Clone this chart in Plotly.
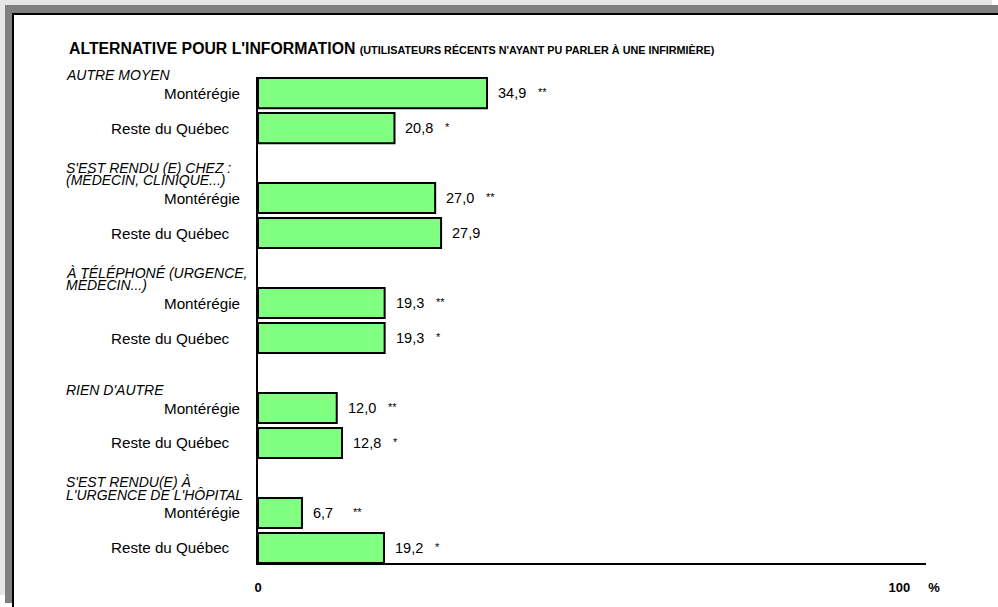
import plotly.graph_objects as go

# ---------------- data ----------------
groups = [
    "AUTRE MOYEN",
    "S'EST RENDU (E) CHEZ :<br>(MÉDECIN, CLINIQUE...)",
    "À TÉLÉPHONÉ (URGENCE,<br>MÉDECIN...)",
    "RIEN D'AUTRE",
    "S'EST RENDU(E) À<br>L'URGENCE DE L'HÔPITAL",
]
series = ["Montérégie", "Reste du Québec"]
monteregie = [34.9, 27.0, 19.3, 12.0, 6.7]
reste_quebec = [20.8, 27.9, 19.3, 12.8, 19.2]
stars_monteregie = ["**", "**", "**", "**", "**"]
stars_reste = ["*", "", "*", "*", "*"]
tick_values = [0, 100]
tick_labels = ["0", "100\u00a0\u00a0\u00a0\u00a0\u00a0%"]
title_main = "ALTERNATIVE POUR L'INFORMATION"
title_sub = "(UTILISATEURS RÉCENTS N'AYANT PU PARLER À UNE INFIRMIÈRE)"

# ---------------- layout geometry ----------------
W, H = 998, 607
L, R, T, B = 258, 72, 77, 44
pw, ph = W - L - R, H - T - B
FONT = "Liberation Sans, Arial, sans-serif"
GREEN = "#80ff80"


def px(x):
    return (x - L) / pw


def py(y):
    return (H - B - y) / ph


values = [monteregie, reste_quebec]
stars = [stars_monteregie, stars_reste]

fig = go.Figure()
for s, name in enumerate(series):
    ypos = [3 * g + s for g in range(len(groups))]
    fig.add_trace(go.Bar(
        y=ypos, x=values[s], orientation="h", width=0.86, name=name,
        marker=dict(color=GREEN, line=dict(color="black", width=2)),
        showlegend=False, hoverinfo="skip",
    ))

ann = []
for g, head in enumerate(groups):
    for s, name in enumerate(series):
        y = 3 * g + s
        v = values[s][g]
        ann.append(dict(x=v, y=y, xref="x", yref="y", xanchor="left", yanchor="middle",
                        xshift=9, showarrow=False, text=f"{v:.1f}".replace(".", ","),
                        font=dict(family=FONT, size=14.5, color="black")))
        if stars[s][g]:
            ann.append(dict(x=v, y=y, xref="x", yref="y", xanchor="left", yanchor="middle",
                            xshift=49, yshift=1, showarrow=False, text=stars[s][g],
                            font=dict(family=FONT, size=11, color="black")))
        ann.append(dict(x=0, y=y, xref="x", yref="y", xanchor="right", yanchor="middle",
                        xshift=-16 if s == 0 else -26, showarrow=False, text=name,
                        font=dict(family=FONT, size=15.2, color="black")))
    lines = head.split("<br>")
    n = len(lines)
    for i, ln in enumerate(lines):
        ann.append(dict(x=px(64), y=3 * g, xref="paper", yref="y", xanchor="left",
                        yanchor="middle", yshift=18 + (n - 1 - i) * 12.5, showarrow=False,
                        text=ln, font=dict(family=FONT, size=14, color="black", style="italic")))

ann.append(dict(
    x=px(67), y=py(48), xref="paper", yref="paper", xanchor="left", yanchor="middle",
    showarrow=False,
    text=f"<b>{title_main}</b> <span style='font-size:10.8px'><b>{title_sub}</b></span>",
    font=dict(family=FONT, size=15.8, color="black"),
))

shapes = [
    dict(type="rect", xref="paper", yref="paper", x0=px(0), x1=px(992), y0=py(0), y1=py(595),
         fillcolor="#e6e6e6", line=dict(width=0), layer="below"),
    dict(type="rect", xref="paper", yref="paper", x0=px(5), x1=px(1000), y0=py(5), y1=py(603),
         fillcolor="#808080", line=dict(width=0), layer="below"),
    dict(type="rect", xref="paper", yref="paper", x0=px(12), x1=px(1000), y0=py(13), y1=py(610),
         fillcolor="black", line=dict(width=0), layer="below"),
    dict(type="rect", xref="paper", yref="paper", x0=px(14), x1=px(1000), y0=py(15), y1=py(610),
         fillcolor="white", line=dict(width=0), layer="below"),
]

fig.update_layout(
    width=W, height=H,
    margin=dict(l=L, r=R, t=T, b=B, autoexpand=False),
    paper_bgcolor="white", plot_bgcolor="rgba(0,0,0,0)",
    barmode="overlay",
    annotations=ann, shapes=shapes,
    font=dict(family=FONT, color="black"),
    xaxis=dict(range=[0, 101.8], showline=True, linecolor="black", linewidth=2,
               showgrid=False, zeroline=False, tickvals=tick_values, ticktext=tick_labels,
               ticks="outside", ticklen=11, tickcolor="rgba(0,0,0,0)",
               tickfont=dict(family=FONT, size=13, color="black", weight="bold"),
               fixedrange=True),
    yaxis=dict(range=[13.43, -0.46], showline=True, linecolor="black", linewidth=2,
               showgrid=False, zeroline=False, showticklabels=False, fixedrange=True),
)

fig.write_html(
    "out.html",
    config={"displayModeBar": False},
    post_script="document.body.style.margin='0';document.body.style.overflow='hidden';",
)
